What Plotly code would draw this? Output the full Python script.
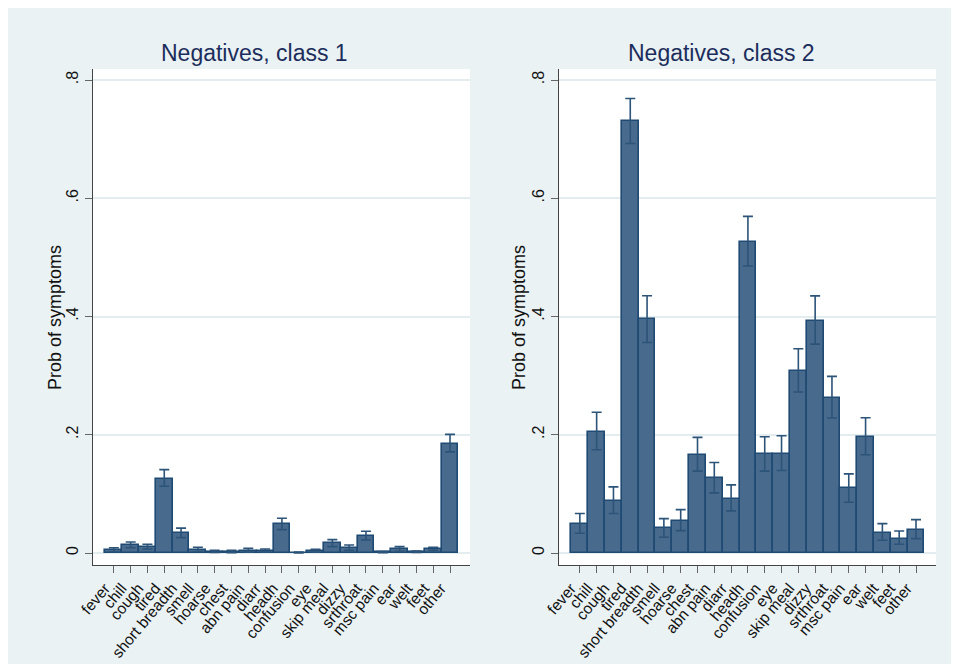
import plotly.graph_objects as go

categories = ["fever", "chill", "cough", "tired", "short breadth", "smell", "hoarse",
              "chest", "abn pain", "diarr", "headh", "confusion", "eye", "skip meal",
              "dizzy", "srthroat", "msc pain", "ear", "welt", "feet", "other"]

class1_mean = [0.005, 0.013, 0.010, 0.126, 0.0333, 0.005, 0.002, 0.0017, 0.0034, 0.0034,
               0.0486, 0.0005, 0.003, 0.0164, 0.0085, 0.0288, 0.0012, 0.0062, 0.0017,
               0.0068, 0.1847]
class1_lo = [0.002, 0.009, 0.0068, 0.113, 0.026, 0.0025, 0.0008, 0.0006, 0.0015, 0.0015,
             0.0395, 0.0001, 0.0013, 0.0107, 0.0045, 0.022, 0.0004, 0.003, 0.0008,
             0.0045, 0.171]
class1_hi = [0.009, 0.0186, 0.0147, 0.141, 0.042, 0.0096, 0.0045, 0.0045, 0.0079, 0.0068,
             0.0588, 0.0015, 0.0062, 0.0226, 0.0136, 0.0367, 0.0025, 0.0107, 0.0034,
             0.0096, 0.2006]

class2_mean = [0.049, 0.205, 0.0887, 0.730, 0.395, 0.0418, 0.0548, 0.1655, 0.1266, 0.0921,
               0.5266, 0.1667, 0.1678, 0.3077, 0.3932, 0.2621, 0.1096, 0.1966, 0.0345,
               0.0243, 0.0395]
class2_lo = [0.0333, 0.1746, 0.0667, 0.6926, 0.356, 0.0266, 0.0379, 0.1384, 0.1017, 0.0712,
             0.4855, 0.1384, 0.1395, 0.2723, 0.3533, 0.2282, 0.0859, 0.1661, 0.0215,
             0.0147, 0.0243]
class2_hi = [0.0667, 0.238, 0.1119, 0.7686, 0.435, 0.0582, 0.0734, 0.1955, 0.1531, 0.1153,
             0.5694, 0.1966, 0.1983, 0.3454, 0.4349, 0.2987, 0.1339, 0.2288, 0.0497,
             0.0373, 0.0565]

titles = ["Negatives, class 1", "Negatives, class 2"]
y_title = "Prob of symptoms"
y_tickvals = [0, 0.2, 0.4, 0.6, 0.8]
y_ticktext = ["0", ".2", ".4", ".6", ".8"]

BG = "#EAF2F3"
FILL = "#486b8d"
EDGE = "#1f4a73"
ERR = "#2c5378"
FONT = "Arial, Liberation Sans, sans-serif"

OFF = 8  # page body margin
W, H = 959 - OFF, 664 - OFF
ML, MT = 93 - OFF, 69 - OFF
MR = 959 - 936
MB = 664 - 565
PW = W - ML - MR
PH = H - MT - MB

def px_to_xp(px):  # px in screenshot coordinates
    return (px - OFF - ML) / PW

def py_to_yp(py):
    return (H - MB - (py - OFF)) / PH

xs = list(range(len(categories)))

fig = go.Figure()
series = [(class1_mean, class1_lo, class1_hi), (class2_mean, class2_lo, class2_hi)]
for i, (m, lo, hi) in enumerate(series):
    xa = "x" if i == 0 else "x2"
    ya = "y" if i == 0 else "y2"
    fig.add_trace(go.Bar(
        x=xs, y=m, width=1.0, xaxis=xa, yaxis=ya,
        marker=dict(color=FILL, line=dict(color=EDGE, width=1.6)),
        error_y=dict(type="data", symmetric=False,
                     array=[h - v for h, v in zip(hi, m)],
                     arrayminus=[v - l for v, l in zip(m, lo)],
                     color=ERR, thickness=1.6, width=5),
        showlegend=False, hoverinfo="skip"))

dom1 = [0, px_to_xp(470)]
dom2 = [px_to_xp(559), 1]

axis_common_x = dict(range=[-1.24, 21.19], tickvals=xs, ticktext=categories,
                     tickangle=-50, ticks="outside", ticklen=7, tickcolor="#666",
                     tickwidth=1.2, showline=True, linecolor="#444", linewidth=1.3,
                     showgrid=False, zeroline=False, automargin=False,
                     ticklabelshift=-9,
                     tickfont=dict(family=FONT, size=15.5, color="#111"))
axis_common_y = dict(range=[-0.0203, 0.8186], tickvals=y_tickvals, ticktext=y_ticktext,
                     tickangle=-90, ticks="outside", ticklen=7, tickcolor="#666",
                     tickwidth=1.2, showline=True, linecolor="#444", linewidth=1.3,
                     showgrid=True, gridcolor="#E3ECEE", gridwidth=1.5, zeroline=False,
                     automargin=False,
                     tickfont=dict(family=FONT, size=16, color="#111"))

fig.update_layout(
    width=W, height=H,
    margin=dict(l=ML, r=MR, t=MT, b=MB, pad=0, autoexpand=False),
    paper_bgcolor=BG, plot_bgcolor="white",
    xaxis=dict(domain=dom1, anchor="y", **axis_common_x),
    yaxis=dict(domain=[0, 1], anchor="x", **axis_common_y),
    xaxis2=dict(domain=dom2, anchor="y2", **axis_common_x),
    yaxis2=dict(domain=[0, 1], anchor="x2", **axis_common_y),
    bargap=0,
)

annotations = []
for cx, t in ((254, titles[0]), (721, titles[1])):
    annotations.append(dict(text=t, xref="paper", yref="paper", x=px_to_xp(cx),
                            y=py_to_yp(53), xanchor="center", yanchor="middle",
                            showarrow=False,
                            font=dict(family=FONT, size=23, color="#1c2d5c")))
for cx in (55, 519):
    annotations.append(dict(text=y_title, xref="paper", yref="paper", x=px_to_xp(cx),
                            y=py_to_yp(318), xanchor="center", yanchor="middle",
                            textangle=-90, showarrow=False,
                            font=dict(family=FONT, size=18, color="#111")))
fig.update_layout(annotations=annotations)

fig.write_html("out.html")
